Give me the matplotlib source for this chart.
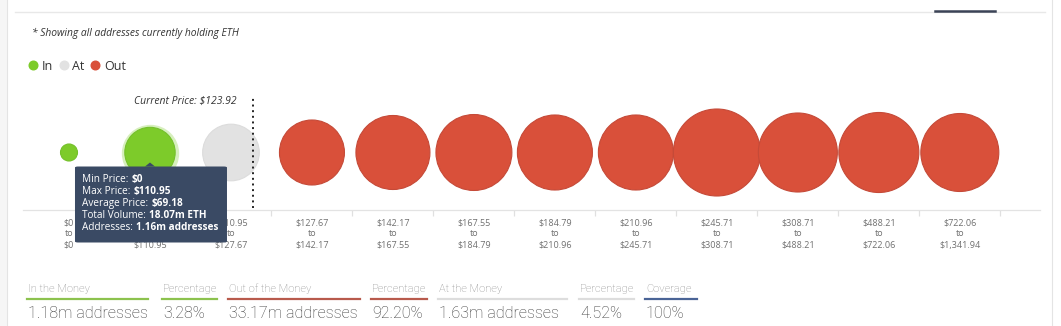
import matplotlib
matplotlib.use("Agg")
import matplotlib.pyplot as plt
import numpy as np
from matplotlib.lines import Line2D
from matplotlib.patches import FancyBboxPatch, Polygon, Rectangle

plt.rcParams['font.family'] = ['Open Sans', 'DejaVu Sans']

# price bins in USD and addresses (millions) per bin
bin_low = [0, 0, 110.95, 127.67, 142.17, 167.55, 184.79, 210.96, 245.71, 308.71, 488.21, 722.06]
bin_high = [0, 110.95, 127.67, 142.17, 167.55, 184.79, 210.96, 245.71, 308.71, 488.21, 722.06, 1341.94]
addresses_m = [0.02, 1.16, 1.63, 2.38, 3.35, 3.58, 3.47, 3.47, 5.04, 3.96, 4.09, 3.83]
bin_status = ['In', 'In', 'At', 'Out', 'Out', 'Out', 'Out', 'Out', 'Out', 'Out', 'Out', 'Out']
current_price = 123.92

# tooltip shown for the hovered bin
hover_bin = 1
hover_labels = ['Min Price:', 'Max Price:', 'Average Price:', 'Total Volume:', 'Addresses:']
hover_values = ['$0', '$110.95', '$69.18', '18.07m ETH', '1.16m addresses']

# summary row
summary_titles = ['In the Money', 'Percentage', 'Out of the Money', 'Percentage',
                  'At the Money', 'Percentage', 'Coverage']
summary_values = ['1.18m addresses', '3.28%', '33.17m addresses', '92.20%',
                  '1.63m addresses', '4.52%', '100%']

colors = {'In': '#7dcb2a', 'At': '#e2e2e2', 'Out': '#d9503a'}
edge_colors = {'In': '#74c02a', 'At': '#dcdcdc', 'Out': '#c54a38'}

W, H = 1061, 326
fig = plt.figure(figsize=(W / 100, H / 100), dpi=100)


def fx(px):
    return px / W


def fy(py):
    # py measured from top
    return 1 - py / H


def price(v):
    return '$0' if v == 0 else f'${v:,.2f}'


# frame bits of the page
fig.add_artist(Line2D([fx(15), fx(1045)], [fy(12), fy(12)], color='#e8e8e8', lw=1))
fig.add_artist(Line2D([fx(935), fx(995)], [fy(11), fy(11)], color='#3b4356', lw=1.8))
fig.add_artist(Rectangle((0, 0), fx(7), 1, color='#f6f6f6', lw=0))
fig.add_artist(Line2D([fx(7), fx(7)], [0, 1], color='#e4e4e4', lw=0.8))
fig.add_artist(Line2D([fx(1052), fx(1052)], [0, 1], color='#e4e4e4', lw=0.8))

fig.text(fx(32), fy(33), '* Showing all addresses currently holding ETH',
         fontsize=7.4, style='italic', color='#333333', va='center')

# legend
handles = [Line2D([], [], marker='o', linestyle='', markersize=6.2,
                  color=colors[k]) for k in ['In', 'At', 'Out']]
fig.legend(handles, ['In', 'At', 'Out'], loc='center left',
           bbox_to_anchor=(fx(28), fy(66)), ncol=3, frameon=False,
           fontsize=9, handlelength=0.8, handletextpad=0.3, columnspacing=0.45,
           borderpad=0, borderaxespad=0, labelcolor='#333333')

# bubble axis
ax = fig.add_axes([fx(23), 1 - 210 / H, (1040 - 23) / W, (210 - 95) / H])
n = len(addresses_m)
xs = np.arange(n)
ax.set_xlim(-0.568, 11.99)
ax.set_ylim(0, 1)

z = np.array(addresses_m)
pos = (z - z.min()) / (z.max() - z.min())
diam_px = 17 + np.sqrt(pos) * 70
sizes = (diam_px * 0.72) ** 2

# hover halo
ax.scatter([xs[hover_bin]], [0.5], s=((diam_px[hover_bin] + 7) * 0.72) ** 2,
           color=colors['In'], alpha=0.3, lw=0, zorder=2)
ax.scatter(xs, np.full(n, 0.5), s=sizes,
           color=[colors[s] for s in bin_status],
           edgecolors=[edge_colors[s] for s in bin_status],
           linewidths=0.8, zorder=3)

# current price marker
for i in range(n):
    if bin_high[i] > bin_low[i] and bin_low[i] <= current_price < bin_high[i]:
        cp_x = i - 0.5 + (current_price - bin_low[i]) / (bin_high[i] - bin_low[i])
ax.axvline(cp_x, ymin=0.02, ymax=0.98, color='#222222', lw=1.4,
           linestyle=(0, (1, 1.9)), zorder=4)
ax.annotate(f'Current Price: {price(current_price)}', xy=(cp_x, 0.948),
            xycoords=('data', 'axes fraction'), xytext=(-12, 0),
            textcoords='offset points', ha='right', va='center',
            fontsize=7.5, style='italic', color='#333333')

for side in ['top', 'left', 'right']:
    ax.spines[side].set_visible(False)
ax.spines['bottom'].set_color('#e3e3e3')
ax.spines['bottom'].set_linewidth(0.9)
ax.set_yticks([])
ax.set_xticks(xs)
ax.set_xticklabels([f'{price(lo)}\nto\n{price(hi)}' for lo, hi in zip(bin_low, bin_high)],
                   fontsize=6.5, color='#707070', linespacing=1.3)
ax.tick_params(axis='x', which='major', length=0, pad=6)
ax.set_xticks(xs + 0.5, minor=True)
ax.tick_params(axis='x', which='minor', length=4.5, color='#e0e0e0', width=0.9)
ax.patch.set_alpha(0)

# tooltip anchored at the hovered bubble
fig.canvas.draw()
renderer = fig.canvas.get_renderer()
bx, by = ax.transData.transform((xs[hover_bin], 0.5))
by = H - by  # to top-based pixels
tip_y = by + 10
box_l, box_r, box_t, box_b = bx - 75, bx + 77, by + 14, by + 90
tip_col = '#3a4a64'
fig.add_artist(FancyBboxPatch((fx(box_l), fy(box_b)), fx(box_r - box_l), (box_b - box_t) / H,
                              boxstyle='round,pad=0,rounding_size=0.003',
                              transform=fig.transFigure, color=tip_col, lw=0, zorder=10))
fig.add_artist(Polygon([[fx(bx - 5), fy(box_t)], [fx(bx), fy(tip_y)], [fx(bx + 5), fy(box_t)]],
                       closed=True, transform=fig.transFigure, color=tip_col, lw=0, zorder=10))
for k, (lab, val) in enumerate(zip(hover_labels, hover_values)):
    ty = box_t + 13 + 12 * k
    t = fig.text(fx(bx - 68), fy(ty), lab, fontsize=7.2, color='white', va='center', zorder=11)
    ext = t.get_window_extent(renderer)
    fig.text(fx(ext.x1 + 3), fy(ty), val, fontsize=7.2, color='white', va='center',
             fontweight='bold', zorder=11)

# summary row
col_left = [28, 163, 229, 372, 439, 580, 646]
col_right = [148, 217, 360, 427, 567, 634, 697]
col_color = ['#8cc24e', '#8cc24e', '#b85a4c', '#b85a4c', '#dddddd', '#dddddd', '#4a6496']
for title, val, l, r, c in zip(summary_titles, summary_values, col_left, col_right, col_color):
    fig.text(fx(l), fy(289), title, fontsize=8, color='#8a8a8a', va='center',
             family=['Roboto', 'DejaVu Sans'], fontweight='light')
    fig.add_artist(Line2D([fx(l - 1), fx(r)], [fy(298.5), fy(298.5)], color=c, lw=1.6))
    fig.text(fx(l), fy(313), val, fontsize=11.6, color='#383838', va='center',
             family=['Roboto', 'DejaVu Sans'], fontweight='light')

fig.savefig('out.png', dpi=100)
